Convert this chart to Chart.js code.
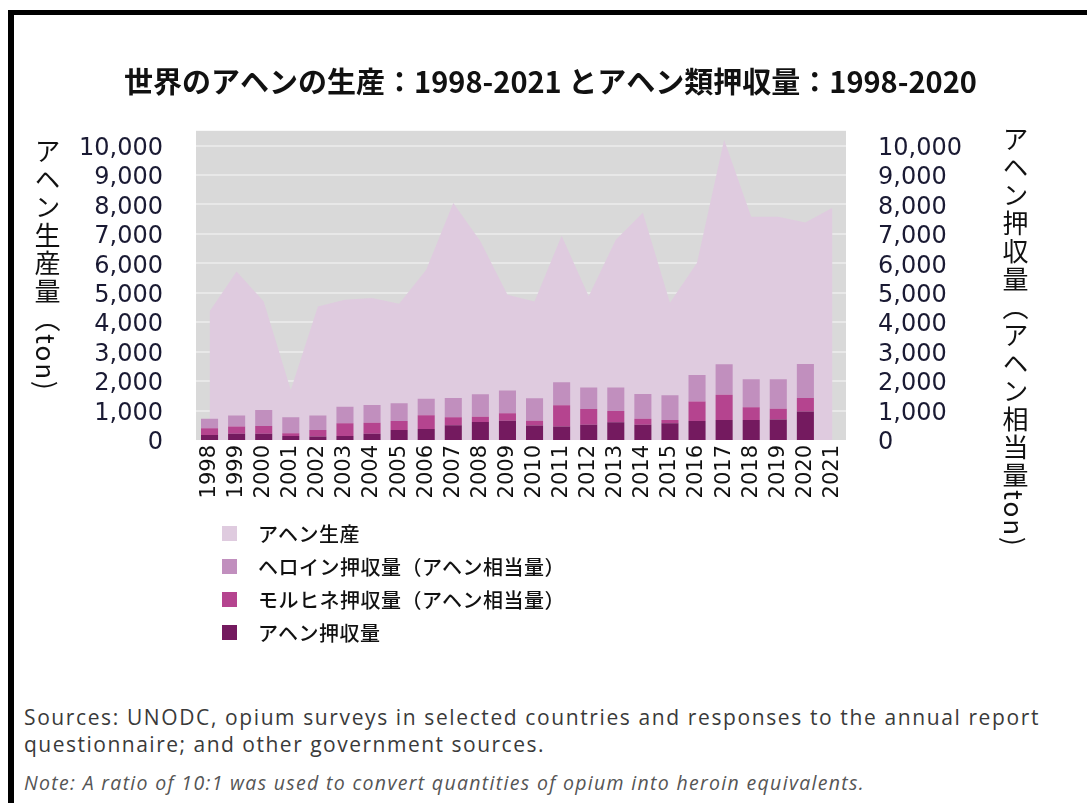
<!DOCTYPE html>
<html lang="ja">
<head>
<meta charset="utf-8">
<title>世界のアヘンの生産とアヘン類押収量</title>
<script src="https://cdn.jsdelivr.net/npm/chart.js@4"></script>
<style>
  html, body { margin: 0; padding: 0; background: #fff; }
  body { width: 1087px; height: 803px; position: relative; overflow: hidden; }
  #frame {
    position: absolute; left: 8px; top: 10px; width: 1100px; height: 820px;
    border-top: 5px solid #000; border-left: 6px solid #000;
  }
  #chart { position: absolute; left: 0; top: 0; }
  .vtitle {
    position: absolute; writing-mode: vertical-rl;
    font-family: 'Noto Sans CJK JP', sans-serif; font-size: 26px;
    letter-spacing: 2px; color: #111; line-height: 1;
  }
  #leftTitle { left: 34px; top: 138px; }
  #rightTitle { left: 1002px; top: 126px; }
  #legend {
    position: absolute; left: 222px; top: 517px;
    font-family: 'Noto Sans CJK JP', sans-serif; font-size: 20px; font-weight: 500;
    letter-spacing: 0.5px; color: #111;
  }
  #legend .item { display: flex; align-items: center; height: 33px; }
  #legend .box { width: 15px; height: 15px; margin-right: 21px; }
  #notes {
    position: absolute; left: 24px; top: 704px;
    font-family: 'Open Sans', sans-serif; color: #3a3a3a; white-space: nowrap;
  }
  #notes .src { font-size: 21px; line-height: 27px; margin: 0; }
  #notes .note { font-size: 19.5px; font-style: italic; color: #555; margin: 11px 0 0 0; display: inline-block; }
  #notes span { display: inline-block; }
</style>
</head>
<body>
<div id="frame"></div>
<canvas id="chart" width="1087" height="520"></canvas>
<div id="leftTitle" class="vtitle">アヘン生産量（ton)</div>
<div id="rightTitle" class="vtitle">アヘン押収量（アヘン相当量ton)</div>
<div id="legend"></div>
<div id="notes">
  <p class="src"><span data-w="1016">Sources: UNODC, opium surveys in selected countries and responses to the annual report</span><br><span data-w="521">questionnaire; and other government sources.</span></p>
  <p class="note"><span data-w="841">Note: A ratio of 10:1 was used to convert quantities of opium into heroin equivalents.</span></p>
</div>

<script>
// Years on the x axis
const years = ['1998', '1999', '2000', '2001', '2002', '2003', '2004', '2005', '2006', '2007', '2008', '2009',
               '2010', '2011', '2012', '2013', '2014', '2015', '2016', '2017', '2018', '2019', '2020', '2021'];

// Opium production (tons), left axis
const opiumProduction = [4360, 5720, 4700, 1700, 4530, 4760, 4820, 4630, 5780, 8050, 6750, 4930,
                         4700, 6940, 4880, 6800, 7720, 4660, 6020, 10200, 7580, 7580, 7390, 7890];

// Seizures in opium equivalent (tons), right axis, stacked
const opiumSeizures = [170, 215, 215, 135, 115, 135, 215, 340, 375, 500, 610, 650,
                       490, 455, 520, 600, 520, 565, 645, 680, 680, 700, 965, null];
const morphineSeizures = [225, 240, 260, 90, 225, 430, 375, 305, 465, 270, 180, 260,
                          160, 725, 535, 385, 205, 115, 660, 860, 430, 365, 465, null];
const heroinSeizures = [330, 375, 545, 545, 490, 565, 600, 600, 565, 660, 760, 770,
                        770, 780, 725, 795, 840, 840, 905, 1030, 955, 1000, 1155, null];

// Tick values shared by both y axes
const tickValues = [0, 1000, 2000, 3000, 4000, 5000, 6000, 7000, 8000, 9000, 10000];
const axisMax = 10500;

const colors = {
  production: '#dfcbdf',
  heroin: '#c18fbe',
  morphine: '#b5448f',
  opium: '#741a5f',
  plotBg: '#d9d9d9',
  grid: '#e8e8e8',
  tick: '#1a1a33'
};

// Grey background behind the plot area
const plotBackground = {
  id: 'plotBackground',
  beforeDraw(chart) {
    const { ctx, chartArea: a } = chart;
    ctx.save();
    ctx.fillStyle = colors.plotBg;
    ctx.fillRect(a.left, a.top, a.right - a.left, a.bottom - a.top);
    ctx.restore();
  }
};

const tickFont = { family: "'DejaVu Sans', sans-serif", size: 24 };
const fixedTicks = s => { s.ticks = tickValues.map(v => ({ value: v })); };
const fmt = v => v.toLocaleString('en-US');

const barDefaults = { yAxisID: 'y2', stack: 'seizures', categoryPercentage: 1, barPercentage: 0.63, order: 0 };

const chart = new Chart(document.getElementById('chart').getContext('2d'), {
  type: 'bar',
  data: {
    labels: years,
    datasets: [
      { ...barDefaults, label: 'アヘン押収量', data: opiumSeizures, backgroundColor: colors.opium },
      { ...barDefaults, label: 'モルヒネ押収量（アヘン相当量）', data: morphineSeizures, backgroundColor: colors.morphine },
      { ...barDefaults, label: 'ヘロイン押収量（アヘン相当量）', data: heroinSeizures, backgroundColor: colors.heroin },
      {
        type: 'line',
        label: 'アヘン生産',
        data: opiumProduction,
        backgroundColor: colors.production,
        borderColor: colors.production,
        borderWidth: 0,
        pointRadius: 0,
        tension: 0,
        fill: 'origin',
        yAxisID: 'y',
        order: 1
      }
    ]
  },
  options: {
    responsive: false,
    animation: false,
    devicePixelRatio: 1,
    layout: { padding: { left: 14 } },
    plugins: {
      title: {
        display: true,
        text: '世界のアヘンの生産：1998-2021 とアヘン類押収量：1998-2020',
        color: '#111',
        font: { family: "'Noto Sans CJK JP', sans-serif", size: 29, weight: 'bold' },
        padding: { top: 65, bottom: 31 }
      },
      legend: { display: false },
      tooltip: { enabled: false }
    },
    scales: {
      x: {
        stacked: true,
        offset: true,
        grid: { display: false, drawTicks: false },
        border: { display: false },
        ticks: {
          autoSkip: false,
          minRotation: 90,
          maxRotation: 90,
          padding: 5,
          color: '#111',
          font: { family: "'DejaVu Sans', sans-serif", size: 21 }
        },
        afterFit: s => { s.height = 80; }
      },
      y: {
        position: 'left',
        min: 0,
        max: axisMax,
        border: { display: false },
        grid: {
          drawTicks: false,
          lineWidth: 2,
          color: c => (c.tick && c.tick.value > 0 ? colors.grid : 'rgba(0,0,0,0)')
        },
        ticks: { autoSkip: false, padding: 33, labelOffset: 3, color: colors.tick, font: tickFont, callback: fmt },
        afterBuildTicks: fixedTicks,
        afterFit: s => { s.width = 182; }
      },
      y2: {
        position: 'right',
        stacked: true,
        min: 0,
        max: axisMax,
        border: { display: false },
        grid: { display: false, drawTicks: false },
        ticks: { autoSkip: false, padding: 32, labelOffset: 3, color: colors.tick, font: tickFont, callback: fmt },
        afterBuildTicks: fixedTicks,
        afterFit: s => { s.width = 241; }
      }
    }
  },
  plugins: [plotBackground]
});

// Legend listed top to bottom: production first, then seizures from the top of the stack down
const legendOrder = [3, 2, 1, 0];
const legendEl = document.getElementById('legend');
legendOrder.forEach(i => {
  const ds = chart.data.datasets[i];
  const item = document.createElement('div');
  item.className = 'item';
  item.innerHTML = `<span class="box" style="background:${ds.backgroundColor}"></span><span>${ds.label}</span>`;
  legendEl.appendChild(item);
});

// Spread the source lines to their set widths
document.querySelectorAll('#notes span[data-w]').forEach(el => {
  const target = +el.dataset.w;
  const n = el.textContent.length;
  el.style.letterSpacing = ((target - el.getBoundingClientRect().width) / n) + 'px';
});
</script>
</body>
</html>
